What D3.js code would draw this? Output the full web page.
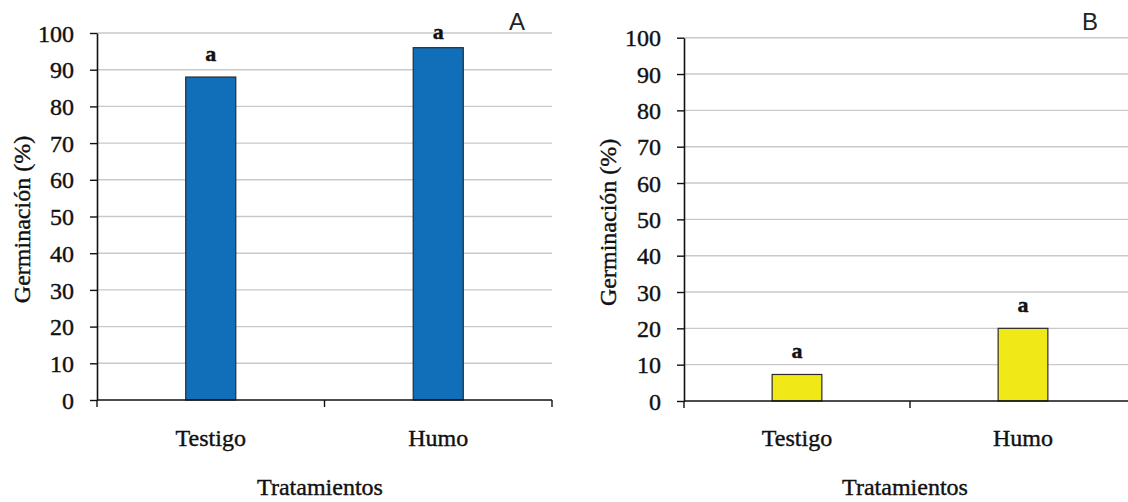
<!DOCTYPE html>
<html>
<head>
<meta charset="utf-8">
<script src="https://cdn.jsdelivr.net/npm/d3@7"></script>
<style>
  html, body { margin: 0; padding: 0; background: #fff; }
  svg { display: block; }
  .serif { font-family: "Liberation Serif", "Times New Roman", serif; fill: #111; stroke: #111; stroke-width: 0.4px; }
</style>
</head>
<body>
<svg id="chart" width="1128" height="502"></svg>
<script>
// Germination (%) per treatment
const categories = ["Testigo", "Humo"];
const valuesA = [88, 96];
const valuesB = [7.3, 20];
const lettersA = ["a", "a"];
const lettersB = ["a", "a"];
const yTicks = [0, 10, 20, 30, 40, 50, 60, 70, 80, 90, 100];
const panelNames = ["A", "B"];

const svg = d3.select("#chart");

const panels = [
  { name: panelNames[0], values: valuesA, letters: lettersA, color: "#116EB9",
    x0: 97, x1: 552, yTop: 33, yBottom: 400, titleX: 22, xTitleX: 320, nameX: 517 },
  { name: panelNames[1], values: valuesB, letters: lettersB, color: "#F0E817",
    x0: 684, x1: 1136, yTop: 37.7, yBottom: 401, titleX: 608, xTitleX: 905, nameX: 1090 }
];

panels.forEach(p => {
  const g = svg.append("g");

  const x = d3.scaleBand().domain(categories).range([p.x0, p.x1]).padding(0);
  const y = d3.scaleLinear().domain([0, 100]).range([p.yBottom, p.yTop]);
  const barW = x.bandwidth() * 0.22;

  // horizontal gridlines
  g.append("g").selectAll("line")
    .data(yTicks.filter(t => t > 0))
    .join("line")
    .attr("x1", p.x0).attr("x2", p.x1)
    .attr("y1", d => y(d)).attr("y2", d => y(d))
    .attr("stroke", "#c9c9c9").attr("stroke-width", 1.4);

  // bars
  g.append("g").selectAll("rect")
    .data(categories)
    .join("rect")
    .attr("x", (d) => x(d) + x.bandwidth() / 2 - barW / 2)
    .attr("width", barW)
    .attr("y", (d, i) => y(p.values[i]))
    .attr("height", (d, i) => y(0) - y(p.values[i]))
    .attr("fill", p.color)
    .attr("stroke", "#2b2b2b").attr("stroke-width", 1.2);

  // significance letters
  g.append("g").selectAll("text")
    .data(categories)
    .join("text")
    .attr("class", "serif")
    .attr("x", d => x(d) + x.bandwidth() / 2)
    .attr("y", (d, i) => Math.max(y(p.values[i]) - 16, p.yTop + 6))
    .attr("text-anchor", "middle")
    .style("font-size", "22px").style("font-weight", "bold")
    .text((d, i) => p.letters[i]);

  // y axis
  const yAxis = d3.axisLeft(y).tickValues(yTicks).tickSize(7).tickSizeOuter(0).tickPadding(16);
  const ya = g.append("g").attr("transform", `translate(${p.x0},0)`).call(yAxis);
  ya.select(".domain").attr("stroke", "#111").attr("stroke-width", 1.6);
  ya.selectAll(".tick line").attr("stroke", "#111").attr("stroke-width", 1.4);
  ya.selectAll(".tick text")
    .attr("class", "serif")
    .style("font-size", "24px").attr("dy", "0.34em");

  // x axis line with boundary ticks
  g.append("line")
    .attr("x1", p.x0).attr("x2", p.x1)
    .attr("y1", y(0)).attr("y2", y(0))
    .attr("stroke", "#111").attr("stroke-width", 1.6);
  const bounds = categories.map(c => x(c)).concat([x.range()[1]]);
  g.append("g").selectAll("line")
    .data(bounds)
    .join("line")
    .attr("x1", d => d).attr("x2", d => d)
    .attr("y1", y(0)).attr("y2", y(0) + 7)
    .attr("stroke", "#111").attr("stroke-width", 1.4);

  // category labels
  g.append("g").selectAll("text")
    .data(categories)
    .join("text")
    .attr("class", "serif")
    .attr("x", d => x(d) + x.bandwidth() / 2)
    .attr("y", 446)
    .attr("text-anchor", "middle")
    .style("font-size", "24px")
    .text(d => d);

  // axis titles
  g.append("text")
    .attr("class", "serif")
    .attr("transform", `translate(${p.titleX + 8},${(p.yTop + p.yBottom) / 2 + 3}) rotate(-90)`)
    .attr("text-anchor", "middle")
    .style("font-size", "24px")
    .text("Germinación (%)");

  g.append("text")
    .attr("class", "serif")
    .attr("x", p.xTitleX).attr("y", 495)
    .attr("text-anchor", "middle")
    .style("font-size", "24px")
    .text("Tratamientos");

  // panel letter
  g.append("text")
    .attr("x", p.nameX).attr("y", 30)
    .attr("text-anchor", "middle")
    .style("font-family", "'Liberation Sans', Arial, sans-serif")
    .style("font-size", "24px")
    .attr("fill", "#222")
    .text(p.name);
});
</script>
</body>
</html>
